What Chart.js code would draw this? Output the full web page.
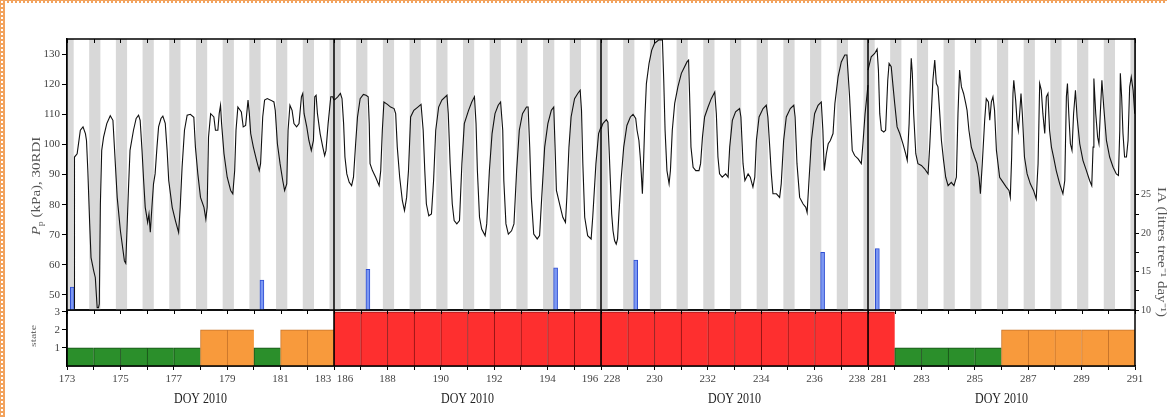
<!DOCTYPE html>
<html><head><meta charset="utf-8">
<script src="https://cdn.jsdelivr.net/npm/chart.js@4.4.0/dist/chart.umd.min.js"></script>
<style>
html,body{margin:0;padding:0;background:#fff;}
#wrap{position:relative;width:1167px;height:417px;overflow:hidden;background:#fff;}
canvas{position:absolute;left:0;top:0;}
#edgeL{position:absolute;left:0;top:0;width:5px;height:417px;background-color:#f2a35e;background-image:radial-gradient(circle,#fff 0.9px,transparent 1.3px);background-size:4px 4px;}
#edgeT{position:absolute;left:0;top:0;width:1167px;height:3px;background-color:#f2a35e;background-image:radial-gradient(circle,#fff 0.9px,transparent 1.3px);background-size:4px 4px;}
</style></head>
<body><div id="wrap"><canvas id="cState" width="1167" height="417"></canvas><canvas id="cTop" width="1167" height="417"></canvas><div id="edgeL"></div><div id="edgeT"></div></div>
<script>
// ---------------- DATA ----------------
const panelStarts = [173, 186, 228, 281];
const panelDays = 10;
const xTickLabels = ['173','','175','','177','','179','','181','','183  186','','188','','190','','192','','194','','196  228','','230','','232','','234','','236','','238  281','','283','','285','','287','','289','','291'];
const ppTicks = [50,60,70,80,90,100,110,120,130];
const iaTicks = [10,12.5,15,17.5,20,22.5,25];
const iaLabelled = [10,15,20,25];
const stateTicks = [1,2,3];
const nightStart = -0.17, nightEnd = 0.25;   // night band around each midnight (fraction of day)

// leaf patch pressure Pp (kPa), [DOY, value]
const pp173 = [[173.27,45.5],[173.28,95.8],[173.38,96.9],[173.50,104.7],[173.60,105.8],[173.69,103.6],[173.73,101.3],[173.78,91.3],[173.85,73.6],[173.90,62.4],[174.00,58.0],[174.06,55.8],[174.13,45.8],[174.18,45.8],[174.21,47],[174.25,80],[174.30,98],[174.37,102.4],[174.49,106.9],[174.62,109.5],[174.72,108],[174.81,93.6],[174.88,82.4],[175.00,71.3],[175.15,61.3],[175.20,60.5],[175.24,70],[175.30,84.7],[175.36,98],[175.49,104.7],[175.59,108.6],[175.68,109.7],[175.74,108],[175.81,98],[175.87,88],[175.93,79.1],[175.97,76.9],[176.02,74.1],[176.07,76.9],[176.12,70.8],[176.18,79.1],[176.24,86.9],[176.30,90.2],[176.37,99.1],[176.43,105.8],[176.52,108.6],[176.59,109.4],[176.68,107],[176.75,98],[176.81,88],[176.94,79.1],[177.06,74.7],[177.18,70.8],[177.24,79.1],[177.31,92.4],[177.40,104.7],[177.50,109.7],[177.62,110],[177.75,109],[177.81,99.1],[177.90,90.2],[178.00,82.4],[178.13,79.1],[178.20,75.2],[178.25,79.1],[178.30,102.4],[178.38,110.2],[178.50,109.1],[178.56,104.7],[178.65,104.7],[178.70,110.2],[178.75,113],[178.79,106.9],[178.88,96.9],[179.00,89.1],[179.13,84.7],[179.21,83.6],[179.28,91.3],[179.33,104.7],[179.40,112.4],[179.53,110.8],[179.60,105.8],[179.69,106.3],[179.78,114.7],[179.83,110.2],[179.88,103.6],[179.98,99.1],[180.10,94.7],[180.20,91.3],[180.25,93.6],[180.33,109.1],[180.40,114.7],[180.50,115.2],[180.63,114.7],[180.75,114.1],[180.80,111.3],[180.88,100.2],[180.98,93.6],[181.08,88],[181.15,84.7],[181.23,86.9],[181.28,104.7],[181.35,113],[181.43,111.3],[181.50,106.9],[181.60,105.8],[181.69,106.9],[181.78,115.8],[181.83,116.9],[181.88,110.2],[181.98,105.8],[182.06,101.3],[182.15,98],[182.23,101.3],[182.28,115.8],[182.33,116.3],[182.38,110.2],[182.48,103.6],[182.58,99.1],[182.65,96.3],[182.70,98],[182.78,106.9],[182.88,115.8],[182.95,115.8],[183.00,114.7]];
const pp186 = [[186.01,114.7],[186.14,115.8],[186.24,116.9],[186.30,115.2],[186.36,106.9],[186.41,95.8],[186.48,90.2],[186.57,87.4],[186.66,86.3],[186.73,89.1],[186.81,100.2],[186.88,109.1],[186.98,115.2],[187.10,116.6],[187.20,116.3],[187.28,115.8],[187.32,106.9],[187.35,93.6],[187.44,91.3],[187.56,89.1],[187.69,86.3],[187.75,91.3],[187.81,104.7],[187.87,114.1],[188.00,113.3],[188.12,112.4],[188.25,111.9],[188.31,110.2],[188.37,99.1],[188.46,89.1],[188.56,81.3],[188.64,78],[188.72,82.4],[188.79,91.3],[188.87,109.1],[188.99,111.3],[189.14,112.4],[189.26,113.3],[189.34,104.7],[189.40,91.3],[189.46,80.2],[189.55,76.3],[189.65,76.9],[189.73,88],[189.81,104.7],[189.92,112.4],[190.04,114.7],[190.23,116.3],[190.28,110.2],[190.35,93.6],[190.43,80.2],[190.50,74.7],[190.60,73.6],[190.70,74.7],[190.79,93.6],[190.88,106.9],[191.04,111.3],[191.16,114.1],[191.26,115.8],[191.32,106.9],[191.37,91.3],[191.45,75.8],[191.53,71.9],[191.66,69.7],[191.72,73.6],[191.82,91.3],[191.92,103.6],[192.03,110.2],[192.15,113],[192.24,114.1],[192.32,104.7],[192.36,88],[192.44,73.6],[192.53,70.2],[192.65,71.3],[192.74,73.6],[192.84,91.3],[192.94,104.7],[193.06,110.2],[193.21,112.4],[193.27,112.4],[193.33,99.1],[193.39,82.4],[193.48,70.2],[193.61,68.6],[193.70,69.7],[193.78,82.4],[193.89,99.1],[194.01,106.9],[194.14,111.3],[194.23,112.4],[194.28,99.1],[194.33,84.7],[194.45,80.2],[194.57,75.8],[194.67,74.1],[194.72,82.4],[194.80,99.1],[194.88,109.1],[195.01,115.2],[195.13,116.9],[195.22,118],[195.27,111.3],[195.32,93.6],[195.39,75.8],[195.50,69.7],[195.63,68.6],[195.69,75.8],[195.81,93.6],[195.91,103.6],[196.00,105.8]];
const pp228 = [[228.00,105.2],[228.07,106.9],[228.20,108.2],[228.26,107.4],[228.30,99.1],[228.35,88],[228.40,76.9],[228.45,71.3],[228.51,68],[228.57,66.9],[228.62,68.6],[228.67,76.9],[228.75,88],[228.85,99.1],[228.97,106.3],[229.10,109.1],[229.20,110],[229.30,108.6],[229.35,104.7],[229.42,101.3],[229.47,95.8],[229.51,90.2],[229.55,83.6],[229.60,95.8],[229.65,110.2],[229.70,120.2],[229.80,126.9],[229.90,131.3],[230.01,133.6],[230.17,134.7],[230.30,134.7],[230.35,121.3],[230.40,104.7],[230.47,91.3],[230.55,86.9],[230.60,91.3],[230.67,104.7],[230.76,113.6],[230.88,119.1],[231.01,123.6],[231.22,127.4],[231.28,128],[231.32,115.8],[231.37,99.1],[231.45,92.4],[231.55,91.3],[231.67,91.3],[231.73,93.6],[231.80,102.4],[231.88,109.1],[232.01,112.4],[232.13,115.2],[232.26,117.4],[232.32,110.2],[232.38,95.8],[232.44,90.2],[232.54,89.1],[232.67,90.2],[232.76,89.1],[232.82,99.1],[232.92,108],[233.04,110.8],[233.19,111.9],[233.24,109.1],[233.32,93.6],[233.39,88],[233.51,90.2],[233.59,89.1],[233.69,85.8],[233.76,89.1],[233.82,101.3],[233.92,109.1],[234.07,111.9],[234.19,113],[234.25,109.1],[234.32,99.1],[234.38,90.2],[234.44,83.6],[234.57,83.6],[234.69,82.4],[234.75,86.9],[234.84,101.3],[234.94,109.1],[235.09,111.9],[235.22,113],[235.27,109.1],[235.34,93.6],[235.44,82.4],[235.57,80.2],[235.67,79.1],[235.72,77.4],[235.79,88],[235.88,101.3],[236.00,110.2],[236.13,113],[236.25,114.1],[236.31,104.7],[236.36,91.3],[236.44,96.9],[236.51,100.2],[236.59,101.3],[236.69,103.6],[236.76,113.6],[236.88,122.4],[237.00,127.4],[237.13,129.7],[237.21,129.7],[237.31,115.8],[237.41,98],[237.50,96.3],[237.63,95.2],[237.75,93.6],[237.81,100.2],[237.89,110.2],[237.98,118],[238.00,119.7]];
const pp281 = [[281.00,124.7],[281.12,129.1],[281.25,130.2],[281.34,131.6],[281.39,124.7],[281.44,110.2],[281.50,104.7],[281.59,104.1],[281.66,104.7],[281.74,121.3],[281.79,126.9],[281.87,125.8],[281.94,119.1],[282.00,113.6],[282.09,105.8],[282.19,103.6],[282.31,100.2],[282.41,96.9],[282.47,94.7],[282.54,106.9],[282.59,121.3],[282.62,128.6],[282.66,123.6],[282.71,110.2],[282.79,96.9],[282.87,93.6],[283.00,93],[283.12,91.9],[283.25,90.2],[283.31,99.1],[283.37,110.2],[283.43,121.3],[283.50,128],[283.56,120.2],[283.62,119.1],[283.68,111.3],[283.75,101.3],[283.83,94.7],[283.91,89.1],[284.00,86.3],[284.12,87.4],[284.22,86.3],[284.31,89.1],[284.37,110.2],[284.43,124.7],[284.50,119.1],[284.58,116.9],[284.66,113.6],[284.71,111.3],[284.78,104.7],[284.87,99.1],[284.99,95.8],[285.08,93.6],[285.16,89.1],[285.21,83.6],[285.28,93.6],[285.37,108],[285.43,115.2],[285.51,114.1],[285.56,108],[285.62,114.1],[285.68,115.8],[285.74,111.3],[285.81,98],[285.93,89.1],[286.06,87.4],[286.18,85.8],[286.28,84.7],[286.33,82.4],[286.38,95.8],[286.43,116.9],[286.46,121.3],[286.53,114.7],[286.58,108],[286.63,104.7],[286.68,110.2],[286.73,116.9],[286.78,110.2],[286.86,95.8],[286.96,90.2],[287.08,86.9],[287.20,84.7],[287.30,81.9],[287.37,93.6],[287.43,120.2],[287.49,118],[287.55,110.2],[287.62,103.6],[287.68,115.8],[287.74,116.9],[287.80,104.7],[287.87,99.1],[287.95,95.8],[288.05,91.3],[288.18,86.9],[288.30,83.6],[288.37,88],[288.43,115.8],[288.47,120.2],[288.52,110.2],[288.58,100.2],[288.64,98],[288.70,110.2],[288.77,118],[288.83,109.1],[288.93,100.2],[289.05,94.7],[289.18,91.3],[289.30,88],[289.38,86.3],[289.43,99.1],[289.46,121.9],[289.53,110.2],[289.60,102.4],[289.65,100.2],[289.70,110.2],[289.76,121.3],[289.83,112.4],[289.93,101.3],[290.05,95.8],[290.18,92.4],[290.30,90.2],[290.38,89.7],[290.43,104.7],[290.45,123.6],[290.50,115.8],[290.55,103.6],[290.61,95.8],[290.68,95.8],[290.74,101.3],[290.80,119.1],[290.86,122.4],[290.93,118],[290.99,110.2]];

// irrigation amount IA (litres tree-1 day-1)
const irrigationDoy = [173.2, 180.3, 187.27, 194.3, 229.3, 236.3, 281.35];
const irrigationLitres = [13.0, 13.9, 15.3, 15.5, 16.5, 17.5, 18.0];

// daily state (1 = green, 2 = orange, 3 = red), one value per day of each panel
const state173 = [1,1,1,1,1,2,2,1,2,2];
const state186 = [3,3,3,3,3,3,3,3,3,3];
const state228 = [3,3,3,3,3,3,3,3,3,3];
const state281 = [3,1,1,1,1,2,2,2,2,2];

// ---------------- STYLE ----------------
const stateFill = {1:'#2b8f2b', 2:'#f89a3c', 3:'#fe2f2f'};
const stateEdge = {1:'#174d17', 2:'#c8742a', 3:'#8c1212'};
const serif = 'Liberation Serif';
const tickFont = {family: serif, size: 11};
const tickColor = '#444';

function toAxis(doy){
  for (let p = 0; p < panelStarts.length; p++){
    const s = panelStarts[p];
    if (doy >= s - 1e-9 && doy <= s + panelDays + 1e-9) return p*panelDays + (doy - s);
  }
  return null;
}

const stateSeries = [state173, state186, state228, state281];
const statePoints = [], stateColors = [], stateEdges = [];
stateSeries.forEach((arr, p) => arr.forEach((s, k) => {
  statePoints.push({x: toAxis(panelStarts[p] + k + 0.5), y: s});
  stateColors.push(stateFill[s]); stateEdges.push(stateEdge[s]);
}));

// ---------------- STATE CHART (bottom) ----------------
const stateChart = new Chart(document.getElementById('cState'), {
  type: 'bar',
  data: {datasets: [{
    data: statePoints, backgroundColor: stateColors, borderColor: stateEdges,
    borderWidth: {left: 1, right: 0, top: 1, bottom: 0}, borderSkipped: false,
    barPercentage: 1, categoryPercentage: 1
  }]},
  options: {
    responsive: false, animation: false, events: [],
    layout: {padding: {top: 310, right: 32, left: 0, bottom: 0}},
    plugins: {legend: {display: false}, tooltip: {enabled: false}},
    scales: {
      x: {type: 'linear', min: 0, max: 40, offset: false,
          afterBuildTicks(s){ s.ticks = xTickLabels.map((_, i) => ({value: i})); },
          afterFit(s){ s.height = 51; },
          ticks: {autoSkip: false, maxRotation: 0, minRotation: 0, padding: 3, font: tickFont, color: tickColor,
                  callback: (v, i) => xTickLabels[i]},
          grid: {offset: false, drawOnChartArea: false, drawTicks: true, tickLength: 4, color: '#000', tickWidth: 1},
          border: {display: true, color: '#000', width: 1.5}},
      y: {min: 0, max: 3.1,
          afterBuildTicks(s){ s.ticks = stateTicks.map(v => ({value: v})); },
          afterFit(s){ s.width = 67; },
          ticks: {font: tickFont, color: tickColor, padding: 2},
          grid: {drawOnChartArea: false, drawTicks: true, tickLength: 5, color: '#000'},
          border: {display: true, color: '#000', width: 1.5}}
    }
  },
  plugins: [{
    id: 'stateFrame',
    afterDraw(chart){
      const {ctx, chartArea: ca} = chart;
      ctx.save(); ctx.strokeStyle = '#000'; ctx.lineWidth = 1.5;
      ctx.strokeRect(ca.left, ca.top, ca.right - ca.left, ca.bottom - ca.top);
      ctx.restore();
    }
  }]
});

// ---------------- TOP CHART ----------------
function rotText(ctx, parts, cx, cy, angle, squash, color){
  ctx.save();
  ctx.translate(cx, cy); ctx.rotate(angle); ctx.scale(1, squash);
  ctx.fillStyle = color; ctx.textBaseline = 'middle'; ctx.textAlign = 'left';
  let total = 0;
  parts.forEach(p => { ctx.font = p.font; total += ctx.measureText(p.t).width; });
  let x = -total/2;
  parts.forEach(p => { ctx.font = p.font; ctx.fillText(p.t, x, p.dy || 0); x += ctx.measureText(p.t).width; });
  ctx.restore();
}

const bandsPlugin = {
  id: 'nightBands',
  beforeDatasetsDraw(chart){
    const {ctx, chartArea: ca} = chart; const xs = chart.scales.x;
    ctx.save(); ctx.fillStyle = '#d8d8d8';
    for (let p = 0; p < panelStarts.length; p++){
      for (let k = 0; k <= panelDays; k++){
        const a = Math.max(p*panelDays, p*panelDays + k + nightStart);
        const b = Math.min((p+1)*panelDays, p*panelDays + k + nightEnd);
        if (b > a){
          const xa = xs.getPixelForValue(a), xb = xs.getPixelForValue(b);
          ctx.fillRect(xa, ca.top, xb - xa, ca.bottom - ca.top);
        }
      }
    }
    ctx.restore();
  }
};

const framePlugin = {
  id: 'topFrame',
  afterDraw(chart){
    const {ctx, chartArea: ca} = chart; const xs = chart.scales.x;
    const sb = stateChart.chartArea.bottom;
    ctx.save();
    ctx.strokeStyle = '#000'; ctx.lineWidth = 1.5;
    ctx.strokeRect(ca.left, ca.top, ca.right - ca.left, ca.bottom - ca.top);
    // panel separators
    for (let p = 1; p < panelStarts.length; p++){
      const x = xs.getPixelForValue(p*panelDays);
      ctx.beginPath(); ctx.moveTo(x, ca.top); ctx.lineTo(x, sb); ctx.stroke();
    }
    // inward day ticks
    ctx.lineWidth = 1;
    for (let v = 0; v <= panelStarts.length*panelDays; v++){
      const x = Math.round(xs.getPixelForValue(v)) + 0.5;
      ctx.beginPath(); ctx.moveTo(x, ca.top); ctx.lineTo(x, ca.top + 4); ctx.stroke();
      ctx.beginPath(); ctx.moveTo(x, ca.bottom); ctx.lineTo(x, ca.bottom + 4); ctx.stroke();
    }
    ctx.restore();
    // axis titles
    const f = (w, s) => (w ? w + ' ' : '') + s + 'px "' + serif + '"';
    rotText(ctx, [{t:'P', font: f('italic', 15)}, {t:'p', font: f('', 10), dy: 4}, {t:' (kPa), 30RDI', font: f('', 15)}],
            37, 186, -Math.PI/2, 0.85, '#555');
    rotText(ctx, [{t:'state', font: f('', 12)}], 34, 336, -Math.PI/2, 0.75, '#666');
    rotText(ctx, [{t:'IA (litres tree\u207B\u00B9 day\u207B\u00B9)', font: f('', 15)}], 1161, 252, Math.PI/2, 0.8, '#555');
    // DOY titles
    for (let p = 0; p < panelStarts.length; p++){
      const cx = xs.getPixelForValue(p*panelDays + panelDays/2);
      ctx.save(); ctx.translate(cx, 399); ctx.scale(0.8, 1);
      ctx.font = f('', 15); ctx.fillStyle = '#222'; ctx.textAlign = 'center'; ctx.textBaseline = 'middle';
      ctx.fillText('DOY 2010', 0, 0); ctx.restore();
    }
  }
};

const lineSets = [pp173, pp186, pp228, pp281].map(arr => ({
  type: 'line', data: arr.map(([d, v]) => ({x: toAxis(d), y: v})),
  borderColor: '#111', borderWidth: 1.1, pointRadius: 0, tension: 0, yAxisID: 'y', order: 1
}));

const topChart = new Chart(document.getElementById('cTop'), {
  type: 'line',
  data: {datasets: [
    ...lineSets,
    {type: 'bar', data: irrigationDoy.map((d, i) => ({x: toAxis(d), y: irrigationLitres[i]})),
     backgroundColor: '#7c98f3', borderColor: '#2e4ed2', borderWidth: 1, barThickness: 4, yAxisID: 'yIA', order: 2}
  ]},
  options: {
    responsive: false, animation: false, events: [],
    layout: {padding: {top: 39, bottom: 107, left: 0, right: 0}},
    plugins: {legend: {display: false}, tooltip: {enabled: false}},
    scales: {
      x: {type: 'linear', min: 0, max: 40, display: false, offset: false},
      y: {position: 'left', min: 45, max: 135,
          afterBuildTicks(s){ s.ticks = ppTicks.map(v => ({value: v})); },
          afterFit(s){ s.width = 67; },
          ticks: {font: tickFont, color: tickColor, padding: 2},
          grid: {drawOnChartArea: false, drawTicks: true, tickLength: 5, color: '#000'},
          border: {display: true, color: '#000', width: 1.5}},
      yIA: {position: 'right', min: 10, max: 45.3,
          afterBuildTicks(s){ s.ticks = iaTicks.map(v => ({value: v})); },
          afterFit(s){ s.width = 32; },
          ticks: {font: {family: serif, size: 10}, color: tickColor, padding: 2,
                  callback: v => iaLabelled.includes(v) ? String(v) : ''},
          grid: {drawOnChartArea: false, drawTicks: true, tickLength: 4, color: '#000'},
          border: {display: true, color: '#000', width: 1.5}}
    }
  },
  plugins: [bandsPlugin, framePlugin]
});
</script></body></html>
